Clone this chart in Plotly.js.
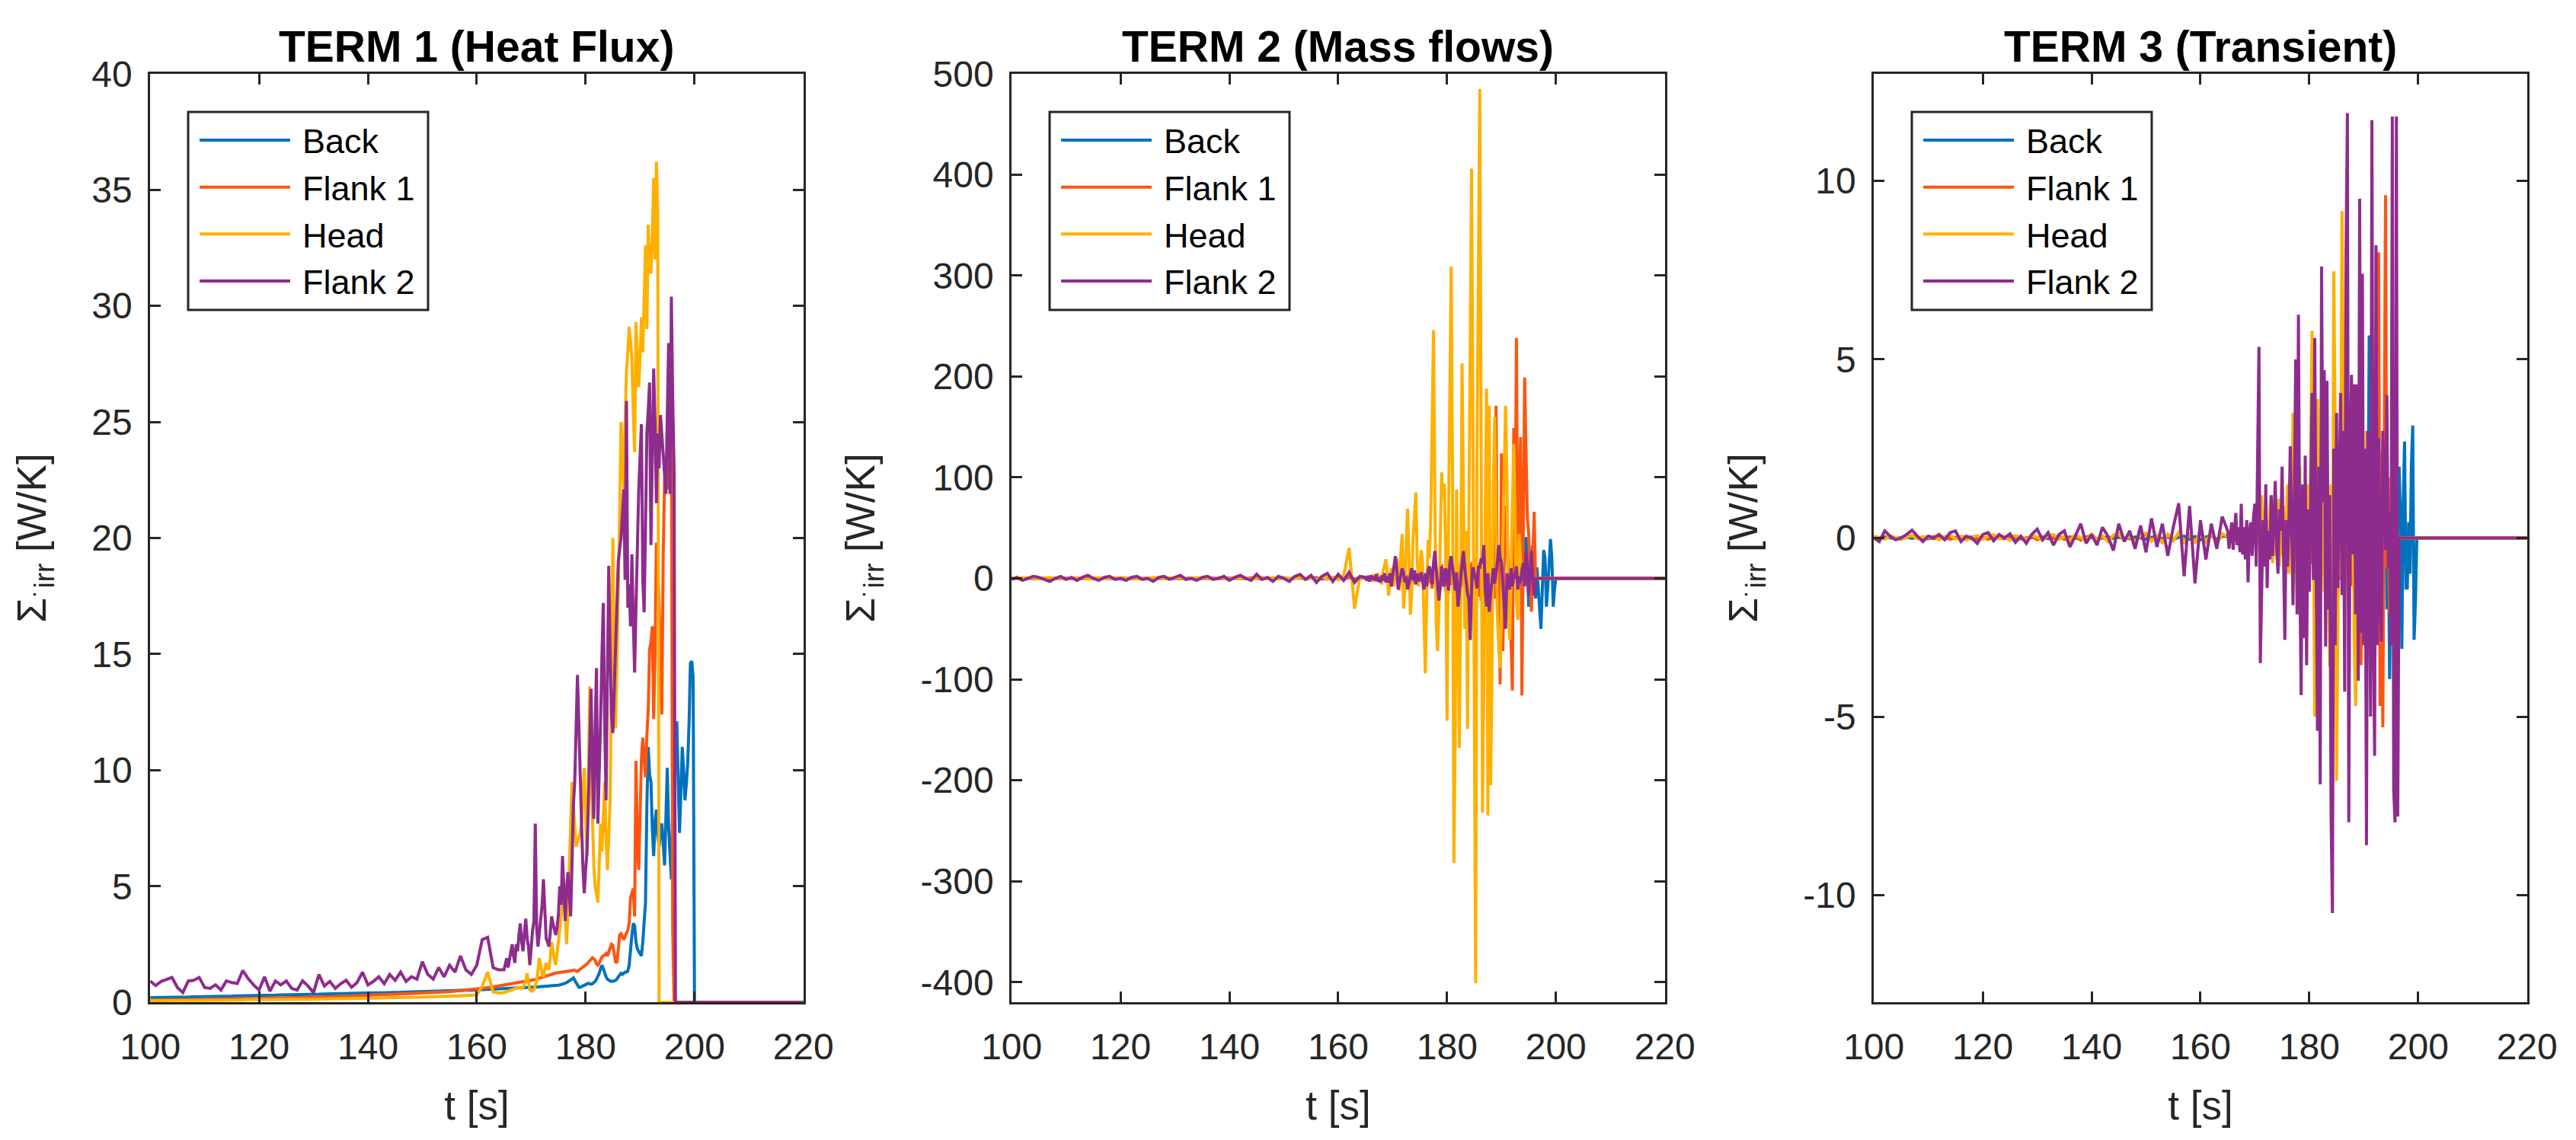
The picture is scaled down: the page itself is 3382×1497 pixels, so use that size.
<!DOCTYPE html>
<html>
<head>
<meta charset="utf-8">
<script src="https://cdn.plot.ly/plotly-3.0.1.min.js"></script>
<style>html,body{margin:0;padding:0;background:#fff;}#chart{width:3382px;height:1497px;}</style>
</head>
<body>
<div id="chart"></div>
<script>
// ---------- time axes ----------
const tQuiet = [100,101,102,103,104,105,106,107,108,109,110,111,112,113,114,115,116,117,118,119,120,121,122,123,124,125,126,127,128,129,130,131,132,133,134,135,136,137,138,139,140,141,142,143,144,145,146,147,148,149,150,151,152,153,154,155,156,157,158,159,160,161,162,163,164];
const tActive = [165,165.25,165.5,165.75,166,166.25,166.5,166.75,167,167.25,167.5,167.75,168,168.25,168.5,168.75,169,169.25,169.5,169.75,170,170.25,170.5,170.75,171,171.25,171.5,171.75,172,172.25,172.5,172.75,173,173.25,173.5,173.75,174,174.25,174.5,174.75,175,175.25,175.5,175.75,176,176.25,176.5,176.75,177,177.25,177.5,177.75,178,178.25,178.5,178.75,179,179.25,179.5,179.75,180,180.25,180.5,180.75,181,181.25,181.5,181.75,182,182.25,182.5,182.75,183,183.25,183.5,183.75,184,184.25,184.5,184.75,185,185.25,185.5,185.75,186,186.25,186.5,186.75,187,187.25,187.5,187.75,188,188.25,188.5,188.75,189,189.25,189.5,189.75,190,190.25,190.5,190.75,191,191.25,191.5,191.75,192,192.25,192.5,192.75,193,193.25,193.5,193.75,194,194.25,194.5,194.75,195,195.25,195.5,195.75,196,196.25,196.5,196.75,197,197.25,197.5,197.75,198,198.25,198.5,198.75,199,199.25,199.5,199.75,200];
const tEnd = [220];
const endValue = [0];

const seriesNames = ['Back', 'Flank 1', 'Head', 'Flank 2'];
const seriesColors = ['#0072BD', '#FC5512', '#FFB000', '#8E2C8E'];
const panelTitles = ['TERM 1 (Heat Flux)', 'TERM 2 (Mass flows)', 'TERM 3 (Transient)'];

const xTickVals = [100, 120, 140, 160, 180, 200, 220];
const xTickText = ['100', '120', '140', '160', '180', '200', '220'];
const y1TickVals = [0, 5, 10, 15, 20, 25, 30, 35, 40];
const y1TickText = ['0', '5', '10', '15', '20', '25', '30', '35', '40'];
const y2TickVals = [-400, -300, -200, -100, 0, 100, 200, 300, 400, 500];
const y2TickText = ['-400', '-300', '-200', '-100', '0', '100', '200', '300', '400', '500'];
const y3TickVals = [-10, -5, 0, 5, 10];
const y3TickText = ['-10', '-5', '0', '5', '10'];
const y1Range = [0, 40];
const y2Range = [-420, 500];
const y3Range = [-13, 13];
const xRange = [100, 220];

// ================= TERM 1 (Heat Flux) =================
const back1Quiet = [0.20,0.20,0.21,0.21,0.22,0.22,0.23,0.23,0.24,0.24,
0.25,0.25,0.26,0.26,0.27,0.27,0.28,0.28,0.29,0.29,
0.30,0.30,0.31,0.31,0.32,0.32,0.33,0.33,0.34,0.34,
0.35,0.35,0.36,0.36,0.37,0.37,0.38,0.38,0.39,0.40,
0.40,0.41,0.41,0.42,0.42,0.43,0.43,0.44,0.45,0.45,
0.46,0.47,0.47,0.48,0.49,0.49,0.50,0.51,0.52,0.52,
0.53,0.54,0.55,0.55,0.56];
const back1Active = [
0.57,0.57,0.58,0.58, 0.58,0.59,0.59,0.59, 0.60,0.60,0.60,0.61, 0.61,0.61,0.62,0.62, 0.62,0.63,0.63,0.63,
0.64,0.64,0.65,0.65, 0.66,0.66,0.67,0.67, 0.68,0.68,0.69,0.69, 0.70,0.70,0.71,0.71, 0.72,0.72,0.73,0.74,
0.74,0.75,0.76,0.78, 0.80,0.82,0.85,0.88, 0.92,0.96,1.00,1.05, 0.95,0.80,0.70,0.65, 0.65,0.68,0.72,0.75,
0.78,0.80,0.82,0.80, 0.78,0.80,0.85,0.90, 1.00,1.10,1.25,1.45, 1.60,1.45,1.25,1.10, 1.00,0.95,0.92,0.90,
0.90,0.92,0.95,1.00, 1.10,1.20,1.25,1.20, 1.25,1.30,1.30,1.35, 1.60,2.40,2.90,3.40, 3.30,2.60,2.30,2.20,
2.10,2.00,2.60,3.50, 4.30,8.50,11.0,9.80, 9.50,7.50,6.30,7.80, 8.30,7.20,6.70,7.40, 7.70,6.80,5.90,8.00,
10.1,7.50,6.30,5.30, 8.30,10.5,11.5,12.1, 9.80,7.30,9.00,11.0, 10.0,8.70,9.40,10.3, 12.0,14.6,14.7,14.0,
0];
const flankOne1Quiet = [0.10,0.10,0.11,0.11,0.11,0.12,0.12,0.12,0.13,0.13,
0.13,0.14,0.14,0.14,0.15,0.15,0.16,0.16,0.16,0.17,
0.17,0.18,0.18,0.19,0.19,0.20,0.20,0.21,0.21,0.22,
0.22,0.23,0.23,0.24,0.25,0.25,0.26,0.27,0.27,0.28,
0.29,0.30,0.31,0.31,0.32,0.33,0.34,0.35,0.36,0.38,
0.39,0.40,0.42,0.43,0.45,0.46,0.48,0.50,0.52,0.54,
0.57,0.60,0.63,0.66,0.70];
const flankOne1Active = [
0.72,0.73,0.74,0.75, 0.76,0.77,0.78,0.79, 0.80,0.81,0.82,0.83, 0.84,0.85,0.86,0.87, 0.88,0.89,0.90,0.92,
0.93,0.95,0.96,0.98, 1.00,1.02,1.04,1.06, 1.08,1.10,1.12,1.15, 1.16,1.18,1.20,1.22, 1.22,1.24,1.26,1.27,
1.28,1.29,1.30,1.30, 1.31,1.32,1.33,1.33, 1.34,1.36,1.38,1.40, 1.38,1.35,1.33,1.38, 1.42,1.48,1.52,1.58,
1.60,1.65,1.72,1.80, 1.85,1.92,1.88,1.80, 1.65,1.60,1.70,1.85, 1.95,2.00,2.05,2.10, 2.00,2.20,2.35,2.50,
2.45,2.10,1.75,1.70, 2.20,2.90,2.95,2.80, 2.70,2.85,3.00,3.10, 3.40,4.50,4.70,4.90, 3.70,10.4,7.00,5.70,
8.00,10.5,11.4,10.5, 9.70,11.5,12.6,15.2, 15.5,16.2,12.2,15.0, 19.8,18.5,17.2,14.5, 12.4,19.2,22.5,23.1,
22.5,22.1,24.0,25.3, 3.10,0,0,0, 0,0,0,0, 0,0,0,0, 0,0,0,0,
0];
const head1Quiet = [0.07,0.07,0.07,0.08,0.08,0.08,0.08,0.08,0.09,0.09,
0.09,0.09,0.09,0.10,0.10,0.10,0.10,0.10,0.11,0.11,
0.11,0.11,0.12,0.12,0.12,0.12,0.13,0.13,0.13,0.14,
0.14,0.14,0.15,0.15,0.15,0.16,0.16,0.17,0.17,0.17,
0.18,0.18,0.19,0.19,0.20,0.20,0.21,0.21,0.22,0.22,
0.23,0.23,0.24,0.25,0.25,0.26,0.27,0.28,0.29,0.30,
0.32,0.70,1.30,0.45,0.40];
const head1Active = [
0.42,0.44,0.45,0.47, 0.48,0.50,0.52,0.55, 0.58,0.60,0.62,0.65, 0.62,0.60,0.65,0.75, 0.90,1.25,0.80,0.55,
0.50,0.48,0.55,0.70, 0.90,1.40,1.90,1.60, 1.20,1.10,1.40,1.70, 1.50,1.40,1.90,2.60, 2.20,1.90,1.60,2.10,
2.60,3.00,3.50,4.20, 5.30,3.80,2.50,4.00, 6.00,7.80,9.50,8.50, 7.50,6.70,6.90,7.10, 7.30,7.80,8.80,10.1,
8.00,6.30,9.50,13.6, 10.0,7.50,5.90,5.00, 4.60,4.30,6.00,7.70, 6.50,7.70,9.50,7.00, 5.70,7.20,8.70,14.0,
20.0,15.0,11.8,14.5, 17.2,21.0,25.0,23.5, 22.1,25.0,27.1,28.0, 29.1,28.5,27.7,25.5, 23.7,29.3,28.0,26.5,
27.7,29.5,28.0,30.5, 32.6,29.0,33.5,31.5, 31.4,33.0,35.5,32.0, 36.2,34.0,0,0, 0,0,0,0,
0,0,0,0, 0,0,0,0, 0,0,0,0, 0,0,0,0, 0,0,0,0,
0];
const flankTwo1Quiet = [0.92,0.72,0.90,1.00,1.07,0.64,0.42,0.92,0.95,1.07,
0.64,0.60,0.75,0.53,0.92,0.85,0.81,1.37,1.02,0.75,
0.53,1.10,0.48,0.92,0.75,0.92,0.60,0.53,0.93,0.70,
0.42,1.20,0.70,0.90,0.60,0.80,0.95,0.65,0.85,1.30,
0.75,0.90,1.10,0.80,1.20,0.95,1.30,0.90,1.10,1.00,
1.75,1.20,1.00,1.50,1.10,1.60,1.30,2.00,1.40,1.20,
1.60,2.70,2.80,1.50,1.40];
const flankTwo1Active = [
1.40,1.60,1.90,1.50, 1.80,2.20,2.50,2.00, 1.70,2.50,2.20,2.90, 3.40,2.60,2.20,3.00, 3.60,2.75,2.40,1.60,
2.40,3.10,3.50,7.70, 3.20,2.40,3.00,3.70, 4.20,5.30,4.00,2.75, 2.60,2.40,3.00,3.70, 3.40,3.10,2.90,3.20,
3.80,5.00,4.20,6.30, 4.50,3.50,4.80,5.60, 4.60,3.70,6.00,8.50, 9.50,12.5,14.1,12.0, 10.3,7.70,5.80,4.70,
5.70,6.50,8.50,10.7, 13.5,10.0,7.90,12.0, 14.4,7.70,9.50,12.2, 15.0,17.2,12.0,8.70, 14.0,18.8,15.0,12.4,
11.6,13.5,16.2,17.5, 19.0,19.5,20.0,21.0, 22.1,18.2,25.9,17.0, 18.0,16.2,19.3,16.5, 14.2,17.0,20.3,22.0,
23.5,24.9,18.2,16.8, 20.5,24.5,25.5,26.7, 19.7,23.0,27.3,25.0, 21.5,24.5,23.0,25.3, 24.5,23.5,22.5,21.9,
25.3,28.4,21.9,30.4, 26.0,22.9,0,0, 0,0,0,0, 0,0,0,0, 0,0,0,0,
0];

// ================= TERM 2 (Mass flows) =================
const back2Quiet = [0.2,-0.1,0.1,0.3,-0.2,0.1,0.0,0.2,-0.1,0.1,
0.3,-0.2,0.0,0.1,0.2,-0.3,0.1,0.0,0.2,-0.1,
0.1,0.3,-0.1,0.0,0.2,-0.2,0.1,0.3,0.0,-0.1,
0.2,0.1,-0.2,0.3,0.0,0.1,-0.1,0.2,0.4,-0.2,
0.1,0.3,-0.3,0.2,0.0,0.4,-0.2,0.1,0.3,-0.1,
0.5,-0.3,0.2,0.6,-0.4,0.3,0.7,-0.5,0.4,0.8,
-0.6,0.5,1.0,-0.8,0.6];
const back2Active = [
0.5,-0.3,0.8,-0.6, 0.4,-0.8,1.0,-0.5, 0.7,-1.0,0.6,-0.4, 1.2,-0.8,0.5,-1.0, 0.8,-1.2,1.5,-0.6,
1.0,-1.5,0.8,-0.9, 1.4,-1.0,0.6,-1.3, 1.6,-0.7,1.1,-1.5, 0.9,-1.8,1.3,-0.8, 1.7,-1.2,0.5,-1.6,
1.2,-0.9,1.8,-1.1, 0.8,-2.0,1.5,-0.7, 2.0,-1.3,0.9,-1.8, 1.4,-2.2,1.9,-1.0, 2.3,-1.5,1.1,-2.0,
1.6,-2.5,2.0,-1.2, 2.6,-1.8,1.3,-2.4, 1.8,-2.8,2.5,-1.5, 3.0,-2.0,1.6,-2.7, 2.2,-3.0,2.8,-1.8,
3.2,-2.4,2.0,-3.1, 2.6,-3.5,3.0,-2.0, 3.6,-2.8,2.2,-3.4, 3.0,-4.0,3.5,-2.5, 4.2,-3.2,2.8,-4.0,
5,10,20,30, 41,10,-10,5, 10,-5,15,5, -10,20,10,-15, 10,30,41,15,
-28,-10,20,33, 10,-20,11,-10, -30,-50,-10,28, 20,-28,-10,15, 39,20,-28,-10,
0];
const flankOne2Quiet = [0.1,0.2,-0.1,0.0,0.2,0.1,-0.2,0.1,0.3,0.0,
-0.1,0.2,0.1,-0.2,0.3,0.0,0.1,-0.1,0.2,0.1,
-0.2,0.2,0.3,-0.1,0.0,0.2,-0.3,0.1,0.2,0.0,
0.3,-0.1,0.1,0.2,-0.3,0.2,0.4,-0.2,0.1,0.3,
-0.2,0.4,0.0,-0.3,0.5,0.1,-0.4,0.3,0.6,-0.2,
0.4,-0.5,0.7,0.2,-0.6,0.8,-0.3,0.9,-0.7,0.5,
1.2,-0.9,0.8,-1.1,1.0];
const flankOne2Active = [
0.8,-0.5,1.2,-0.9, 1.0,-1.3,0.7,-1.1, 1.5,-0.8,1.2,-1.6, 1.1,-1.8,2.0,-0.9, 2.2,-1.5,1.0,-2.3,
1.8,-2.6,2.5,-1.4, 3.0,-2.0,1.6,-3.2, 2.4,-3.5,3.2,-1.8, 4.0,-2.6,2.0,-4.2, 3.0,-5.0,4.5,-2.5,
5.5,-3.5,2.8,-6.0, 5.0,-8.0,10.0,-5.0, 8.0,-10.0,12.0,-6.0, 9.0,-12.0,7.0,-9.0, 14.0,-8.0,10.0,-13.0,
8.0,-15.0,12.0,-7.0, 16.0,-10.0,9.0,-14.0, 11.0,-18.0,15.0,-8.0, 18.0,-12.0,10.0,-16.0, 13.0,-20.0,16.0,-10.0,
20.0,-14.0,12.0,-18.0, 15.0,-22.0,18.0,-12.0, 24.0,-16.0,14.0,-25.0, 18.0,-28.0,30.0,-20.0, 171,-39,20,-105,
124,-72,20,72, 40,-10,-33,-60, -111,149,50,238, -22,72,140,-116, 20,199,127,60,
44,10,-33,20, 66,0,0,0, 0,0,0,0, 0,0,0,0, 0,0,0,0,
0];
const head2Quiet = [0.5,-0.4,0.8,-0.2,0.3,-0.6,0.4,0.9,-0.3,0.2,
-0.5,0.6,-0.1,0.4,-0.7,0.3,0.8,-0.4,0.1,0.5,
-0.6,0.2,0.7,-0.3,0.4,-0.5,0.9,0.1,-0.4,0.6,
-0.2,0.5,-0.8,0.3,0.7,-0.1,0.4,-0.6,1.0,0.2,
-0.5,0.8,-0.3,0.6,-0.9,0.4,1.1,-0.4,0.7,-0.6,
1.0,-0.8,0.5,1.3,-1.0,0.6,-1.2,1.5,-0.7,1.2,
-1.5,3.0,30.0,-30.0,2.0];
const head2Active = [
1,-2,3,-1, 2,-3,4,-2, 3,5,-4,2, -6,8,12,19, 6,-17,-5,10,
4,-8,12,20, 10,-12,25,44, -30,-10,35,69, 20,-36,-15,40, 60,85,20,-8,
10,28,15,-60, -94,-20,38,20, 60,150,246,80, -44,-72,-30,40, 105,80,94,20,
-141,50,220,309, 100,-282,-150,88, -30,-168,-20,213, 90,-50,47,-149, 50,268,406,150,
-150,-401,116,300, 485,150,-232,-100, 69,188,-235,171, -205,-94,94,160, 60,-39,-70,-89,
-28,30,97,171, 100,-28,-61,28, 72,133,60,-22, -41,44,20,-5, 5,-3,2,0,
0,0,0,0, 0,0,0,0, 0,0,0,0, 0,0,0,0, 0,0,0,0,
0];
const flankTwo2Quiet = [-1,1,-2,0,2,1,-1,-3,0,2,
-1,1,-2,1,3,0,-2,1,2,-1,
0,-2,1,2,-1,0,-3,1,2,-1,
1,3,-1,0,-2,1,2,-1,0,2,
-2,1,3,0,-2,4,-1,1,-3,2,
0,-3,2,4,-1,3,-4,2,5,-3,
4,-2,6,-4,2];
const flankTwo2Active = [
1,-2,2,-3, 3,-1,2,-2, 4,-3,1,-4, 3,-2,5,-4, 2,-4,5,-8,
5,12,22,10, -11,-3,6,10, 5,-4,2,-11, -5,4,10,-2, 8,-6,5,-3,
0,6,-4,-11, 5,-8,8,12, 5,-6,15,27, 10,-10,-22,-8, 12,0,-8,10,
5,-12,15,22, 8,0,-12,6, -28,-10,0,15, 27,10,-5,-15, -20,-61,-10,11,
5,0,-10,11, 11,20,15,33, -10,-28,5,-33, -15,-5,10,-5, 5,15,33,20,
16,-10,-30,-50, 5,-5,-11,10, -8,5,0,12, -11,2,-5,8, 15,-8,27,10,
-17,5,27,0, -17,0,0,0, 0,0,0,0, 0,0,0,0, 0,0,0,0,
0];

// ================= TERM 3 (Transient) =================
const back3Quiet = [0.02,-0.01,0.03,0.00,-0.02,0.01,0.03,-0.01,0.02,0.00,
-0.02,0.01,0.02,-0.03,0.01,0.00,0.02,-0.01,0.03,-0.02,
0.01,0.02,-0.02,0.03,0.00,-0.01,0.02,0.01,-0.03,0.02,
0.00,0.03,-0.02,0.01,0.02,-0.01,0.03,0.00,-0.02,0.01,
0.02,-0.03,0.01,0.03,-0.01,0.02,0.00,-0.02,0.03,0.01,
-0.03,0.02,0.04,-0.02,0.03,-0.04,0.02,0.05,-0.03,0.04,
-0.05,0.03,0.06,-0.04,0.05];
const back3Active = [
0.05,-0.04,0.06,-0.05, 0.04,-0.06,0.07,-0.03, 0.08,-0.05,0.04,-0.07, 0.06,-0.08,0.09,-0.05, 0.10,-0.07,0.06,-0.10,
0.08,-0.12,0.11,-0.07, 0.13,-0.09,0.08,-0.12, 0.10,-0.14,0.13,-0.08, 0.15,-0.10,0.09,-0.15, 0.12,-0.17,0.15,-0.10,
0.18,-0.12,0.10,-0.18, 0.14,-0.20,0.18,-0.12, 0.22,-0.15,0.12,-0.21, 0.17,-0.24,0.21,-0.14, 0.25,-0.18,0.15,-0.26,
0.20,-0.28,0.25,-0.17, 0.30,-0.22,0.18,-0.30, 0.25,-0.35,0.30,-0.20, 0.36,-0.26,0.22,-0.38, 0.30,-0.42,0.36,-0.25,
0.45,-0.32,0.28,-0.46, 0.38,-0.50,0.44,-0.30, 0.55,-0.40,0.34,-0.56, 0.46,-0.62,0.55,-0.38, 0.66,-0.50,0.42,-0.70,
0.20,-0.50,1.00,-0.80, 5.67,-1.00,-3.40,1.50, -1.00,2.00,-2.00,1.00, -1.50,2.00,-1.00,0.80, 1.50,-2.00,1.00,-3.95,
-1.00,2.40,0.50,1.80, -3.04,1.00,2.00,0.57, -3.10,1.00,2.70,-1.40, -1.40,0.44,-1.00,2.00, 3.15,-2.85,-1.80,0.00,
0];
const flankOne3Quiet = [0.03,0.00,-0.02,0.04,0.01,-0.03,0.02,0.05,-0.01,0.00,
0.04,-0.02,0.01,0.03,-0.04,0.02,0.00,0.05,-0.03,0.01,
0.02,-0.04,0.05,0.00,-0.02,0.03,0.06,-0.03,0.01,0.04,
-0.05,0.02,0.04,-0.01,0.06,-0.04,0.00,0.05,-0.06,0.03,
0.07,-0.03,0.02,-0.06,0.05,0.08,-0.05,0.03,-0.07,0.06,
0.09,-0.06,0.04,-0.08,0.10,-0.05,0.12,-0.09,0.07,-0.11,
0.13,-0.08,0.10,-0.12,0.09];
const flankOne3Active = [
0.06,-0.05,0.08,-0.06, 0.07,-0.09,0.05,-0.08, 0.10,-0.06,0.09,-0.11, 0.08,-0.12,0.14,-0.07, 0.15,-0.10,0.07,-0.16,
0.12,-0.18,0.17,-0.10, 0.20,-0.14,0.11,-0.22, 0.17,-0.24,0.22,-0.13, 0.27,-0.18,0.14,-0.29, 0.21,-0.33,0.30,-0.17,
0.36,-0.24,0.19,-0.40, 0.30,-0.45,0.40,-0.22, 0.48,-0.32,0.25,-0.52, 0.38,-0.58,0.52,-0.30, 0.62,-0.42,0.33,-0.66,
0.50,-0.72,0.65,-0.38, 0.78,-0.54,0.42,-0.82, 0.62,-0.88,0.80,-0.48, 0.95,-0.66,0.52,-1.00, 0.75,-1.05,0.96,-0.58,
1.10,-0.80,0.64,-1.18, 0.90,-1.25,1.12,-0.70, 1.30,-0.95,0.76,-1.35, 1.05,-1.45,1.30,-0.85, 0.50,-1.00,-3.56,1.00,
-1.40,0.80,-0.50,1.20, -1.00,0.60,-1.50,0.80, -0.50,-0.07,3.00,8.00, -4.70,2.40,-5.30,2.00, 9.60,-0.85,1.70,-2.10,
0,0,0,0, 0,0,0,0, 0,0,0,0, 0,0,0,0, 0,0,0,0,
0];
const head3Quiet = [0.05,0.02,-0.03,0.06,0.01,-0.04,0.03,0.07,-0.02,0.04,
0.00,0.06,-0.05,0.03,0.08,-0.03,0.05,-0.06,0.02,0.07,
-0.04,0.05,0.09,-0.02,0.04,-0.07,0.06,0.03,-0.05,0.08,
0.02,-0.06,0.07,0.10,-0.04,0.05,-0.08,0.09,0.01,-0.07,
0.11,-0.05,0.06,-0.10,0.08,0.12,-0.06,0.04,-0.11,0.09,
0.14,-0.09,0.07,-0.13,0.11,-0.08,0.16,-0.12,0.10,-0.15,
0.18,-0.10,0.13,-0.16,0.12];
const head3Active = [
0.05,-0.05,0.05,0.00, -0.05,0.10,-0.05,0.05, 0.10,-0.10,0.05,-0.10, 0.15,-0.10,0.20,-0.15, 0.10,-0.20,0.30,-0.20,
0.25,-0.30,0.40,0.20, -0.40,1.20,-0.50,0.30, -0.60,0.50,-0.30,0.80, 1.20,-0.70,0.40,-0.50, 0.60,1.10,-0.80,0.30,
-0.50,0.90,-1.20,0.50, 1.50,-1.00,0.60,-0.40, 3.50,1.00,-0.50,-1.60, 0.80,2.00,-1.20,0.50, -2.00,1.00,-1.00,1.50,
-1.00,2.50,5.80,1.00, -5.00,0.50,3.90,1.50, -1.50,-0.60,2.00,-1.50, -0.30,2.50,-1.00,-3.60, 1.50,-2.00,7.47,3.00,
-6.80,-2.00,2.00,-1.00, 9.15,3.90,-1.60,1.00, 3.00,-2.00,1.50,4.40, 2.00,-3.00,-4.70,-2.50, 0.44,2.00,-1.50,1.00,
-1.00,1.50,3.00,-0.46, 1.00,-0.80,0.50,-0.40, 0.30,-0.30,0.20,-0.20, 0.10,-0.10,0,0, 0,0,0,0,
0,0,0,0, 0,0,0,0, 0,0,0,0, 0,0,0,0, 0,0,0,0,
0];
const flankTwo3Quiet = [0.00,-0.10,0.20,0.05,-0.05,0.00,0.10,0.22,0.05,-0.10,
0.05,0.00,0.10,-0.05,0.15,0.20,-0.10,0.05,0.00,-0.15,
0.10,0.15,-0.08,0.10,0.00,0.12,-0.12,0.05,-0.15,0.10,
0.25,-0.05,0.15,-0.20,0.10,0.20,-0.25,0.05,0.40,-0.15,
0.10,-0.20,0.30,0.05,-0.35,0.40,-0.10,0.20,-0.30,0.35,
-0.40,0.55,-0.25,0.40,-0.50,0.30,0.97,-1.07,0.90,-1.27,
0.50,-0.60,0.40,-0.30,0.60];
const flankTwo3Active = [
0.20,-0.30,0.10,0.44, -0.33,0.20,0.70,-0.20, 0.30,-0.40,0.96,-0.46, 0.30,-0.60,0.50,-1.24, 0.20,0.44,-0.50,0.60,
0.96,-0.80,2.90,5.35, -3.50,-1.40,0.50,-0.80, 1.50,-1.40,0.20,-0.60, 1.20,-0.50,0.90,1.60, -0.30,-1.00,0.80,0.20,
2.00,-0.60,-2.85,0.50, -0.80,0.30,2.57,0.40, -1.88,1.20,5.00,-2.14, 6.25,-1.00,-4.40,1.50, -2.80,2.31,-3.56,0.80,
-1.50,1.00,4.06,-1.17, 5.60,-0.60,-5.40,2.00, -6.90,7.60,1.00,4.70, -3.04,4.40,-2.00,1.20, -7.80,-10.5,2.50,-3.00,
3.50,-1.40,2.00,4.06, -1.60,3.00,-4.30,8.06, 11.9,-7.96,2.00,4.57, -0.46,4.30,-2.14,4.30, -4.00,9.50,-2.66,7.40,
-3.00,2.50,-8.60,3.00, 1.73,-5.00,11.7,-2.40, -6.10,8.20,-3.00,2.80, -1.50,-2.90,3.00,1.73, -0.33,4.00,-0.85,0.70,
-3.00,11.8,-7.04,-7.96, 11.8,-7.80,0,0, 0,0,0,0, 0,0,0,0, 0,0,0,0,
0];

// ---------- assemble ----------
const panelQuiet = [
  [back1Quiet, flankOne1Quiet, head1Quiet, flankTwo1Quiet],
  [back2Quiet, flankOne2Quiet, head2Quiet, flankTwo2Quiet],
  [back3Quiet, flankOne3Quiet, head3Quiet, flankTwo3Quiet]
];
const panelActive = [
  [back1Active, flankOne1Active, head1Active, flankTwo1Active],
  [back2Active, flankOne2Active, head2Active, flankTwo2Active],
  [back3Active, flankOne3Active, head3Active, flankTwo3Active]
];

const tAll = tQuiet.concat(tActive, tEnd);
const traces = [];
for (let p = 0; p < 3; p++) {
  const ax = p === 0 ? '' : String(p + 1);
  for (let s = 0; s < 4; s++) {
    const yv = panelQuiet[p][s].concat(panelActive[p][s], endValue);
    if (yv.length !== tAll.length) console.warn('length mismatch', p, s, yv.length, tAll.length);
    traces.push({
      type: 'scatter', mode: 'lines', name: seriesNames[s],
      x: tAll, y: yv, xaxis: 'x' + ax, yaxis: 'y' + ax,
      line: {color: seriesColors[s], width: 4},
      hoverinfo: 'skip', showlegend: false
    });
  }
}

const FONT = 'Liberation Sans, Arial, Helvetica, sans-serif';
const AXC = '#262626';
const xDomains = [[0.05831, 0.31186], [0.39273, 0.64627], [0.72744, 0.98099]];
const yDomain = [0.12077, 0.93534];
const yRanges = [y1Range, y2Range, y3Range];
const yTV = [y1TickVals, y2TickVals, y3TickVals];
const yTT = [y1TickText, y2TickText, y3TickText];

const layout = {
  width: 3382, height: 1497,
  margin: {l: 0, r: 0, t: 0, b: 0},
  paper_bgcolor: '#ffffff', plot_bgcolor: '#ffffff',
  showlegend: false,
  font: {family: FONT, size: 48, color: AXC},
  shapes: [], annotations: []
};

// legend geometry (fractions of each plot area)
const legBox = {x0: 0.0581, x1: 0.4254, y0: 0.7456, y1: 0.9588};
const legLineX = [0.0756, 0.2143];
const legRows = [0.9285, 0.8779, 0.8274, 0.7768];
const legTextX = 0.2307;

for (let p = 0; p < 3; p++) {
  const ax = p === 0 ? '' : String(p + 1);
  layout['xaxis' + ax] = {
    domain: xDomains[p], anchor: 'y' + ax, range: xRange,
    tickmode: 'array', tickvals: xTickVals, ticktext: xTickText,
    showline: true, linecolor: AXC, linewidth: 3, mirror: 'ticks',
    ticks: 'inside', ticklen: 14, tickwidth: 3, tickcolor: AXC,
    ticklabelstandoff: 14,
    tickfont: {family: FONT, size: 48, color: AXC},
    showgrid: false, zeroline: false,
    title: {text: 't [s]', font: {family: FONT, size: 53, color: AXC}, standoff: 34}
  };
  layout['yaxis' + ax] = {
    domain: yDomain, anchor: 'x' + ax, range: yRanges[p],
    tickmode: 'array', tickvals: yTV[p], ticktext: yTT[p],
    showline: true, linecolor: AXC, linewidth: 3, mirror: 'ticks',
    ticks: 'inside', ticklen: 14, tickwidth: 3, tickcolor: AXC,
    ticklabelstandoff: 11,
    tickfont: {family: FONT, size: 48, color: AXC},
    showgrid: false, zeroline: false,
    title: {text: 'Σ<sub>˙irr</sub> [W/K]', font: {family: FONT, size: 53, color: AXC}, standoff: 43}
  };
  const xr = 'x' + ax + ' domain', yr = 'y' + ax + ' domain';
  layout.annotations.push({
    xref: xr, yref: yr, x: 0.5, y: 1, xanchor: 'center', yanchor: 'bottom', yshift: 2,
    text: '<b>' + panelTitles[p] + '</b>', showarrow: false,
    font: {family: FONT, size: 57, color: '#000000'}
  });
  layout.shapes.push({
    type: 'rect', xref: xr, yref: yr, x0: legBox.x0, x1: legBox.x1, y0: legBox.y0, y1: legBox.y1,
    line: {color: AXC, width: 3}, fillcolor: '#ffffff', layer: 'above'
  });
  for (let s = 0; s < 4; s++) {
    layout.shapes.push({
      type: 'line', xref: xr, yref: yr, x0: legLineX[0], x1: legLineX[1], y0: legRows[s], y1: legRows[s],
      line: {color: seriesColors[s], width: 4}, layer: 'above'
    });
    layout.annotations.push({
      xref: xr, yref: yr, x: legTextX, y: legRows[s], xanchor: 'left', yanchor: 'middle', yshift: -2,
      text: seriesNames[s], showarrow: false,
      font: {family: FONT, size: 45, color: '#000000'}
    });
  }
}

Plotly.newPlot('chart', traces, layout, {staticPlot: true, displayModeBar: false});
</script>
</body>
</html>
